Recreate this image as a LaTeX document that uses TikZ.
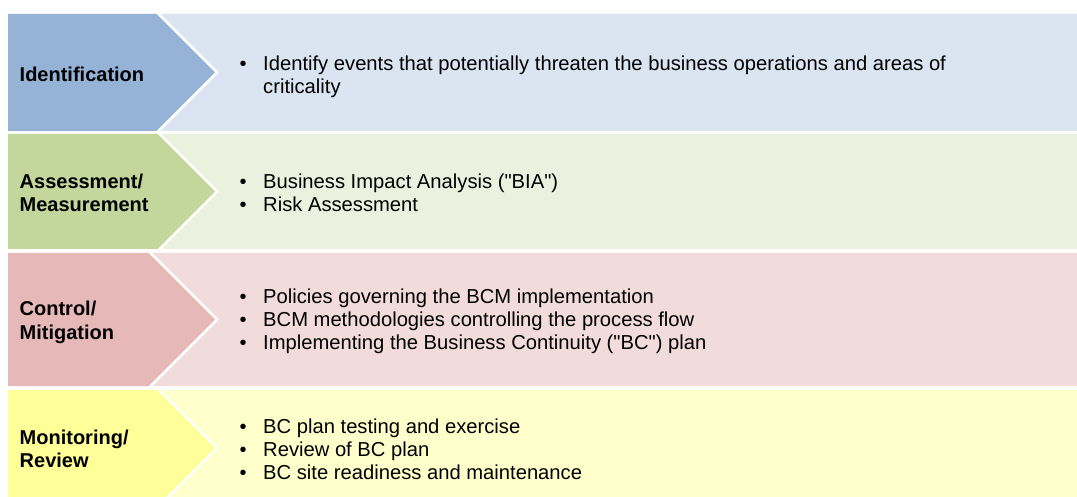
\documentclass[tikz,border=0pt]{standalone}
\usepackage{fontspec}
\setmainfont{Liberation Sans}
\definecolor{darkA}{HTML}{95B3D7}
\definecolor{lightA}{HTML}{DBE5F1}
\definecolor{darkB}{HTML}{C3D69B}
\definecolor{lightB}{HTML}{EBF1DE}
\definecolor{darkC}{HTML}{E6B9B8}
\definecolor{lightC}{HTML}{F2DCDB}
\definecolor{darkD}{HTML}{FFFF99}
\definecolor{lightD}{HTML}{FFFFCC}
\tikzset{
  lbl/.style={anchor=base west, inner sep=0pt, font=\fontsize{20}{23}\selectfont\bfseries},
  txt/.style={anchor=base west, inner sep=0pt, font=\fontsize{20.2}{23}\selectfont},
  bul/.style={anchor=base, inner sep=0pt, font=\fontsize{20}{23}\selectfont},
}
\newcommand{\rowshape}[4]{% top, bottom, dark colour, light colour
  \pgfmathsetmacro{\rmid}{(#1+#2)/2}
  \pgfmathsetmacro{\rcor}{215-(#2-#1)/2}
  \fill[#4] (\rcor+4,#1) -- (1085,#1) -- (1085,#2) -- (\rcor+4,#2) -- (219,\rmid) -- cycle;
  \fill[#3] (8,#1) -- (\rcor,#1) -- (215,\rmid) -- (\rcor,#2) -- (8,#2) -- cycle;
}
\newcommand{\qd}{\textquotedbl}
\begin{document}
\begin{tikzpicture}[x=1pt,y=-1pt]
\useasboundingbox (0,0) rectangle (1077,497);
\clip (0,0) rectangle (1077,497);
\fill[white] (0,0) rectangle (1077,497);
\rowshape{14}{131}{darkA}{lightA}
\rowshape{134}{249}{darkB}{lightB}
\rowshape{253}{386}{darkC}{lightC}
\rowshape{390}{506}{darkD}{lightD}
% Row 1
\node[lbl] (l1) at (19.5,81.5) {Identification};
\node[bul] (b1a) at (243,70.5) {•};
\node[txt] (t1a) at (263,70.5) {Identify events that potentially threaten the business operations and areas of};
\node[txt] (t1b) at (263,93.5) {criticality};
% Row 2
\node[lbl] (l2a) at (19.5,188.5) {Assessment/};
\node[lbl] (l2b) at (19.5,211.5) {Measurement};
\node[bul] (b2a) at (243,188.5) {•};
\node[txt] (t2a) at (263,188.5) {Business Impact Analysis (\qd BIA\qd)};
\node[bul] (b2b) at (243,211.5) {•};
\node[txt] (t2b) at (263,211.5) {Risk Assessment};
% Row 3
\node[lbl] (l3a) at (19.5,316) {Control/};
\node[lbl] (l3b) at (19.5,339) {Mitigation};
\node[bul] (b3a) at (243,303.5) {•};
\node[txt] (t3a) at (263,303.5) {Policies governing the BCM implementation};
\node[bul] (b3b) at (243,326.5) {•};
\node[txt] (t3b) at (263,326.5) {BCM methodologies controlling the process flow};
\node[bul] (b3c) at (243,349.5) {•};
\node[txt] (t3c) at (263,349.5) {Implementing the Business Continuity (\qd BC\qd) plan};
% Row 4
\node[lbl] (l4a) at (19.5,444.5) {Monitoring/};
\node[lbl] (l4b) at (19.5,467.5) {Review};
\node[bul] (b4a) at (243,433) {•};
\node[txt] (t4a) at (263,433) {BC plan testing and exercise};
\node[bul] (b4b) at (243,456) {•};
\node[txt] (t4b) at (263,456) {Review of BC plan};
\node[bul] (b4c) at (243,479) {•};
\node[txt] (t4c) at (263,479) {BC site readiness and maintenance};
\end{tikzpicture}
\end{document}
